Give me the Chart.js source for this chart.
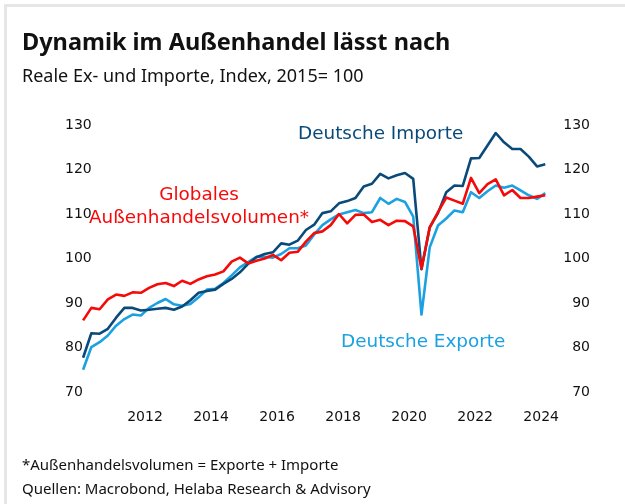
<!DOCTYPE html>
<html lang="de">
<head>
    <meta charset="UTF-8">
    <title>Dynamik im Außenhandel lässt nach</title>
    <script src="https://cdn.jsdelivr.net/npm/chart.js"></script>
    <style>
        html, body {
            margin: 0;
            padding: 0;
            background: #ffffff;
        }
        .page {
            position: relative;
            width: 625px;
            height: 504px;
            overflow: hidden;
            font-family: "Noto Sans", sans-serif;
            color: #111111;
        }
        .frame {
            position: absolute;
            left: 4px;
            top: 4px;
            right: 0;
            bottom: 0;
            border-top: 3px solid #e6e6e6;
            border-left: 3px solid #e6e6e6;
        }
        .txt {
            position: absolute;
            white-space: nowrap;
            line-height: 1;
        }
        .title { left: 22px; top: 30px; font-size: 23.5px; font-weight: bold; }
        .subtitle { left: 22px; top: 66px; font-size: 18px; }
        .note1 { left: 22px; top: 457px; font-size: 15px; }
        .note2 { left: 22px; top: 481px; font-size: 15px; }
        .series {
            font-family: "DejaVu Sans", sans-serif;
            font-size: 18.4px;
        }
        #chart {
            position: absolute;
            left: 0;
            top: 0;
        }
    </style>
</head>
<body>
<div class="page">
    <div class="frame"></div>
    <canvas id="chart" width="625" height="504"></canvas>
    <div class="txt title">Dynamik im Außenhandel lässt nach</div>
    <div class="txt subtitle">Reale Ex- und Importe, Index, 2015= 100</div>
    <div class="txt series" style="left:298px; top:124px; color:#0a4a7a;">Deutsche Importe</div>
    <div class="txt series" style="left:81px; top:183px; width:236px; text-align:center; line-height:22.6px; color:#f50a0a;">Globales<br>Außenhandelsvolumen*</div>
    <div class="txt series" style="left:341px; top:332px; color:#1ba1e2;">Deutsche Exporte</div>
    <div class="txt note1">*Außenhandelsvolumen = Exporte + Importe</div>
    <div class="txt note2">Quellen: Macrobond, Helaba Research &amp; Advisory</div>
</div>

<script>
    const quarters = [
        '2010 Q1', '2010 Q2', '2010 Q3', '2010 Q4',
        '2011 Q1', '2011 Q2', '2011 Q3', '2011 Q4',
        '2012 Q1', '2012 Q2', '2012 Q3', '2012 Q4',
        '2013 Q1', '2013 Q2', '2013 Q3', '2013 Q4',
        '2014 Q1', '2014 Q2', '2014 Q3', '2014 Q4',
        '2015 Q1', '2015 Q2', '2015 Q3', '2015 Q4',
        '2016 Q1', '2016 Q2', '2016 Q3', '2016 Q4',
        '2017 Q1', '2017 Q2', '2017 Q3', '2017 Q4',
        '2018 Q1', '2018 Q2', '2018 Q3', '2018 Q4',
        '2019 Q1', '2019 Q2', '2019 Q3', '2019 Q4',
        '2020 Q1', '2020 Q2', '2020 Q3', '2020 Q4',
        '2021 Q1', '2021 Q2', '2021 Q3', '2021 Q4',
        '2022 Q1', '2022 Q2', '2022 Q3', '2022 Q4',
        '2023 Q1', '2023 Q2', '2023 Q3', '2023 Q4',
        '2024 Q1'
    ];

    // Globales Außenhandelsvolumen (Exporte + Importe)
    const globalTrade = [
        86.1, 88.9, 88.6, 90.8, 91.9, 91.6, 92.4, 92.3, 93.4, 94.2,
        94.5, 93.8, 95.0, 94.3, 95.3, 96.0, 96.4, 97.1, 99.3, 100.2,
        98.9, 99.5, 100.0, 100.8, 99.6, 101.3, 101.5, 103.8, 105.7, 106.1,
        107.5, 110.0, 107.9, 109.8, 109.9, 108.2, 108.7, 107.5, 108.5, 108.4,
        107.2, 97.7, 107.0, 110.4, 113.7, 113.0, 112.3, 118.1, 114.7, 116.7,
        117.8, 114.2, 115.4, 113.6, 113.6, 113.9, 114.2
    ];

    const germanImports = [
        77.7, 83.2, 83.1, 84.2, 86.7, 88.9, 88.9, 88.3, 88.5, 88.7,
        88.9, 88.5, 89.2, 90.6, 92.3, 92.7, 93.0, 94.3, 95.4, 96.9,
        98.8, 100.3, 101.0, 101.4, 103.4, 103.1, 104.0, 106.4, 107.6, 110.2,
        110.6, 112.4, 112.9, 113.6, 116.2, 116.8, 119.0, 118.0, 118.7, 119.2,
        117.9, 97.6, 107.0, 110.2, 114.9, 116.4, 116.3, 122.5, 122.6, 125.4,
        128.2, 126.1, 124.6, 124.6, 122.9, 120.7, 121.2
    ];

    const germanExports = [
        75.0, 80.1, 81.2, 82.7, 84.9, 86.4, 87.4, 87.2, 88.9, 90.0,
        90.9, 89.7, 89.4, 89.8, 91.3, 93.0, 93.2, 94.5, 96.2, 98.0,
        99.2, 100.4, 100.4, 100.2, 101.0, 102.3, 102.3, 102.9, 105.4, 107.5,
        108.8, 109.9, 110.4, 110.9, 110.2, 110.4, 113.6, 112.3, 113.4, 112.7,
        109.4, 87.4, 102.5, 107.4, 109.0, 110.8, 110.4, 114.9, 113.6, 115.1,
        116.4, 115.9, 116.4, 115.3, 114.2, 113.4, 114.7
    ];

    const xTicks = [2012, 2014, 2016, 2018, 2020, 2022, 2024];
    const yTicks = [70, 80, 90, 100, 110, 120, 130];

    // quarter label -> decimal year (middle of the quarter)
    function quarterToYear(label) {
        const parts = label.split(' Q');
        return Number(parts[0]) + (Number(parts[1]) - 1) / 4 + 0.125;
    }

    function toPoints(values) {
        return values.map((v, i) => ({ x: quarterToYear(quarters[i]), y: v }));
    }

    const tickFont = { family: 'DejaVu Sans', size: 14 };

    // left labels reach into the plot area, so they are mirrored (not clipped)
    function yAxis(position, width) {
        const left = position === 'left';
        return {
            position: position,
            min: 70,
            max: 130,
            afterBuildTicks: scale => { scale.ticks = yTicks.map(v => ({ value: v })); },
            afterFit: scale => { scale.width = width; },
            grid: { display: false, drawTicks: false },
            border: { display: false },
            ticks: {
                color: '#111111',
                font: tickFont,
                mirror: left,
                padding: left ? -11 : 0,
                crossAlign: left ? 'near' : 'far'
            }
        };
    }

    new Chart(document.getElementById('chart'), {
        type: 'line',
        data: {
            datasets: [
                {
                    label: 'Globales Außenhandelsvolumen*',
                    data: toPoints(globalTrade),
                    borderColor: '#f50a0a',
                    borderWidth: 2.6,
                    clip: false
                },
                {
                    label: 'Deutsche Importe',
                    data: toPoints(germanImports),
                    borderColor: '#0a4a7a',
                    borderWidth: 2.6,
                    clip: false
                },
                {
                    label: 'Deutsche Exporte',
                    data: toPoints(germanExports),
                    borderColor: '#1ba1e2',
                    borderWidth: 2.6,
                    clip: false
                }
            ]
        },
        options: {
            responsive: false,
            animation: false,
            events: [],
            elements: {
                point: { radius: 0 },
                line: { tension: 0, borderJoinStyle: 'round' }
            },
            layout: {
                padding: { left: 0, right: 35, top: 125, bottom: 72 }
            },
            plugins: {
                legend: { display: false },
                tooltip: { enabled: false }
            },
            scales: {
                x: {
                    type: 'linear',
                    min: 2009.91,
                    max: 2024.48,
                    afterBuildTicks: scale => { scale.ticks = xTicks.map(v => ({ value: v })); },
                    afterFit: scale => { scale.height = 40; },
                    grid: { display: false, drawTicks: false },
                    border: { display: false },
                    ticks: {
                        color: '#111111',
                        font: tickFont,
                        padding: 17,
                        maxRotation: 0,
                        callback: value => String(value)
                    }
                },
                y: yAxis('left', 76),
                y2: yAxis('right', 33)
            }
        }
    });
</script>
</body>
</html>
